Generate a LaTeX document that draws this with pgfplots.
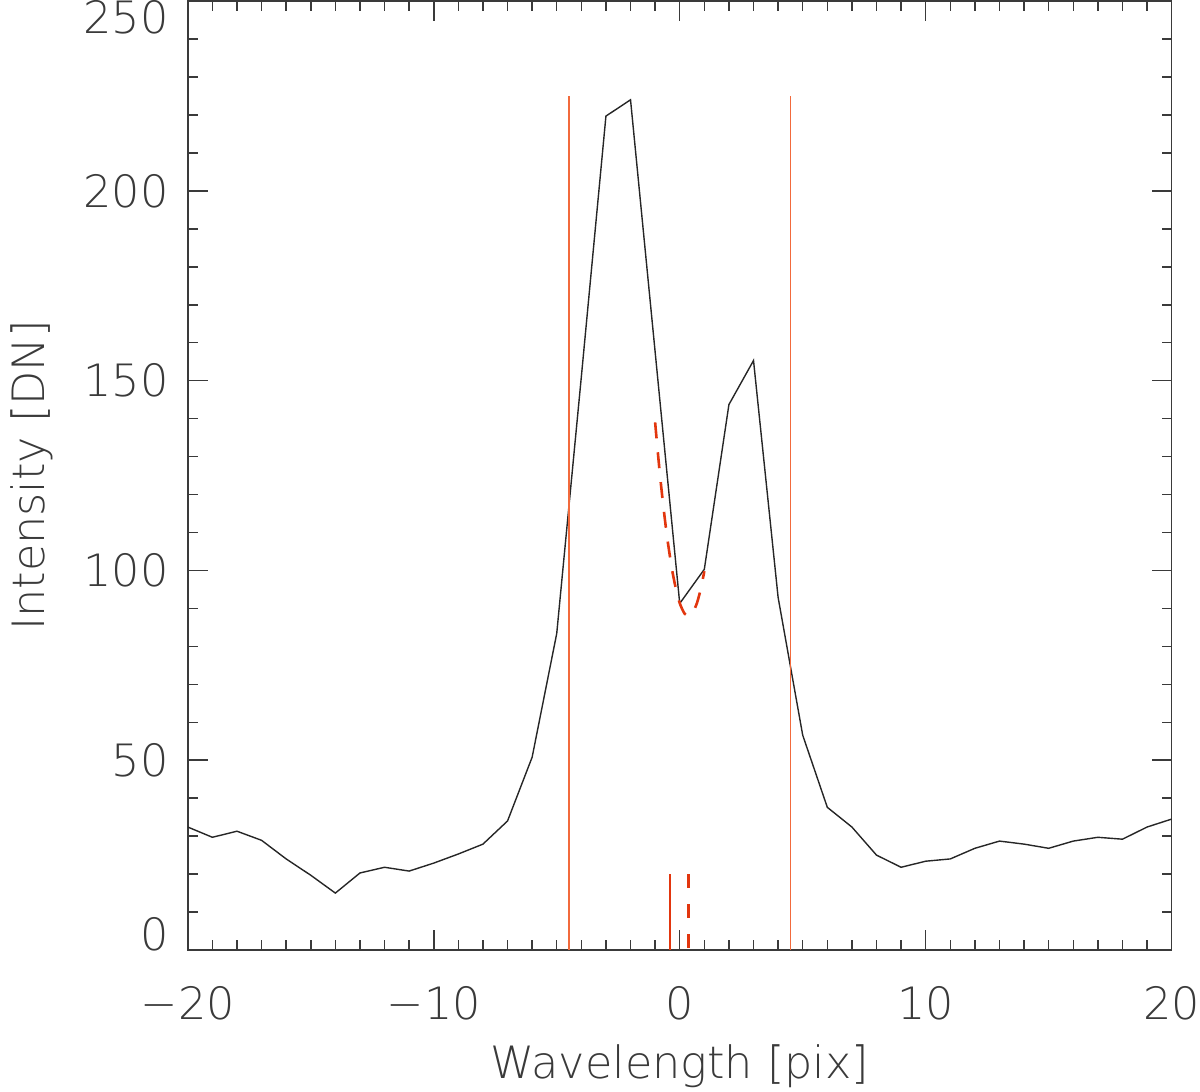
\documentclass[border=0pt]{standalone}
\usepackage{fontspec}
\setmainfont{DejaVu Sans ExtraLight}
\usepackage{pgfplots}
\pgfplotsset{compat=1.18}
\definecolor{axgray}{HTML}{3A3A3A}
\definecolor{myorange}{HTML}{F26A3C}
\definecolor{fitred}{HTML}{E2360E}
\begin{document}
\begin{tikzpicture}
\begin{axis}[
  scale only axis,
  width=492.5pt, height=475pt,
  xmin=-20, xmax=20, ymin=0, ymax=250,
  clip mode=individual,
  font=\fontsize{22.3}{26}\selectfont,
  /pgf/number format/assume math mode=true,
  axis line style={axgray, line width=0.75pt},
  every tick/.style={axgray, line width=0.75pt},
  tick align=inside,
  xtick={-20,-10,0,10,20},
  xticklabels={−20,−10,0,10,20},
  minor x tick num=9,
  ytick={0,50,100,150,200,250},
  yticklabels={,50,100,150,200,},
  minor y tick num=4,
  major tick length=10pt,
  minor tick length=5pt,
  xtick pos=both, ytick pos=both,
  x tick label style={anchor=base, yshift=-35pt, inner sep=0pt, text=axgray},
  y tick label style={anchor=east, xshift=-9.4pt, inner sep=0pt, text=axgray},
  xlabel={Wavelength [pix]},
  ylabel={Intensity [DN]},
  every axis x label/.style={at={(axis description cs:0.5,-0.1358)}, anchor=base, inner sep=0pt, text=axgray},
  every axis y label/.style={at={(axis description cs:-0.1452,0.5)}, rotate=90, anchor=base, inner sep=0pt, text=axgray},
]
\addplot[black!85, line width=0.7pt] coordinates {
(-20,32.4)(-19,29.7)(-18,31.3)(-17,28.9)(-16,24.0)(-15,19.7)(-14,15.0)(-13,20.3)(-12,21.8)(-11,20.8)
(-10,22.9)(-9,25.3)(-8,27.9)(-7,34.0)(-6,50.8)(-5,83.4)(-4,151.0)(-3,219.7)(-2,224.0)(-1,157.6)
(0,91.3)(1,100.3)(2,143.7)(3,155.3)(4,92.9)(5,56.6)(6,37.6)(7,32.4)(8,25.0)(9,21.8)
(10,23.4)(11,24.0)(12,26.8)(13,28.7)(14,27.9)(15,26.8)(16,28.7)(17,29.7)(18,29.2)(19,32.4)(20,34.5)
};
\addplot[color=myorange, line width=0.75pt] coordinates {(-4.5,0)(-4.5,225)};
\addplot[color=myorange, line width=0.75pt] coordinates {(4.5,0)(4.5,225)};
\addplot[color=fitred, line width=1.3pt, dash pattern=on 8pt off 7pt, smooth] coordinates {
(-1.0,139.0)(-0.9,131.8)(-0.8,125.0)(-0.7,118.9)(-0.6,113.3)(-0.5,108.2)(-0.4,103.8)(-0.3,99.8)
(-0.2,96.5)(-0.1,93.7)(0.0,91.4)(0.1,89.8)(0.2,88.6)(0.3,88.1)(0.35,88.0)(0.4,88.1)(0.5,88.6)
(0.6,89.8)(0.7,91.4)(0.8,93.7)(0.9,96.5)(1.0,99.8)
};
\addplot[color=fitred, line width=1.2pt] coordinates {(-0.4,0)(-0.4,20)};
\addplot[color=fitred, line width=1.2pt, dash pattern=on 7pt off 8pt] coordinates {(0.36,20)(0.36,0)};
\node[anchor=base east, inner sep=0pt, text=axgray] at ([xshift=-9.5pt]axis cs:-20,0) {0};
\node[anchor=base east, inner sep=0pt, text=axgray] at ([xshift=-9.5pt,yshift=-16pt]axis cs:-20,250) {250};
\end{axis}
\path ([shift={(-94pt,-71pt)}]current axis.south west) rectangle ([shift={(13.5pt,0.5pt)}]current axis.north east);
\end{tikzpicture}
\end{document}
